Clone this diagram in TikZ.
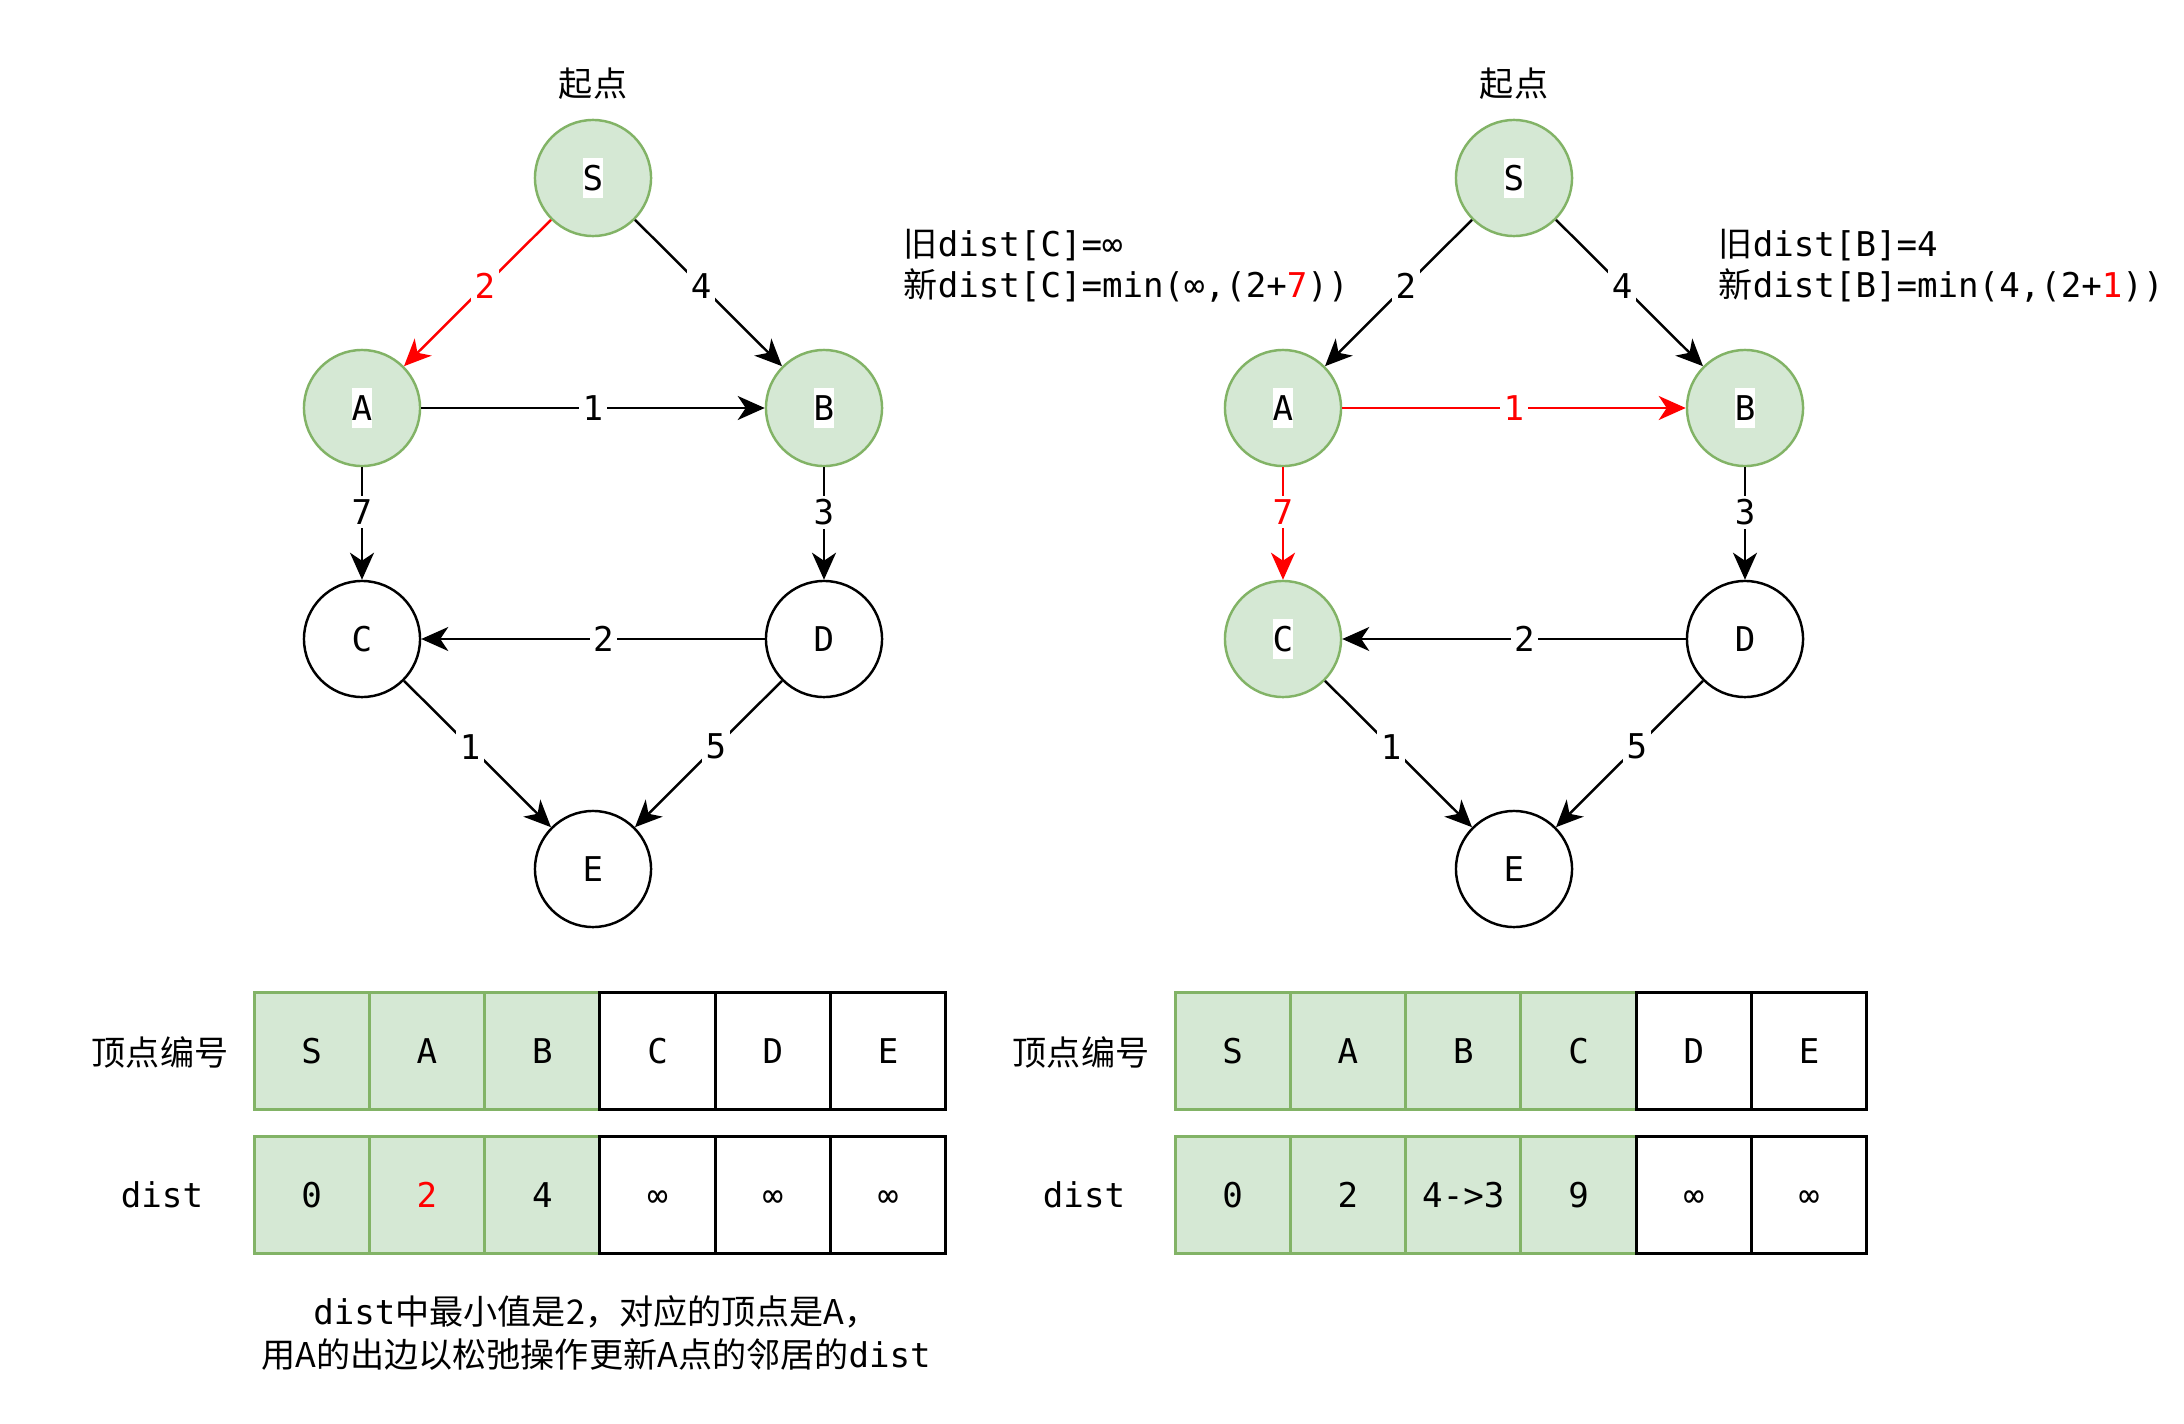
\documentclass[tikz,border=0pt]{standalone}
\usepackage{fontspec}
\setmainfont{DejaVu Sans Mono}
\newfontfamily\cjk{Noto Sans CJK SC}
\usetikzlibrary{arrows.meta}
\definecolor{gfill}{HTML}{D5E8D4}
\definecolor{gline}{HTML}{82B366}
\definecolor{myred}{HTML}{FF0000}
\newcommand\wbox[1]{{\setlength{\fboxsep}{0pt}\colorbox{white}{\rule[-0.22em]{0pt}{1.2em}#1}}}
\begin{document}
\begin{tikzpicture}[x=0.01cm,y=-0.01cm,
  every node/.style={font=\fontsize{9.7pt}{11.6pt}\selectfont},
  vtx/.style={circle,draw=black,fill=white,line width=0.7pt,minimum size=1.16cm,inner sep=0pt},
  gvtx/.style={vtx,draw=gline,fill=gfill},
  arr/.style={line width=0.7pt,-{Stealth[length=0.27cm,width=0.24cm,inset=0.08cm]}},
  rarr/.style={arr,draw=myred},
  elab/.style={fill=white,inner sep=1pt,pos=0.45},
  vlab/.style={fill=white,inner sep=1pt,pos=0.4},
  hlab/.style={fill=white,inner sep=1pt,pos=0.5},
  cell/.style={rectangle,draw=black,fill=white,line width=0.85pt,minimum width=1.153cm,minimum height=1.16cm,inner sep=0pt,text height=0.73em,text depth=0pt},
  gcell/.style={cell,draw=gline,fill=gfill},
]
\fill[white] (0,0) rectangle (2184,1424);
\useasboundingbox (0,0) rectangle (2184,1424);

% ---------- left graph ----------
\node (Lstart) at (593,84) {\cjk 起点};
\node[gvtx] (LS) at (593,178) {\wbox{S}};
\node[gvtx] (LA) at (362,408) {\wbox{A}};
\node[gvtx] (LB) at (824,408) {\wbox{B}};
\node[vtx] (LC) at (362,639) {\wbox{C}};
\node[vtx] (LD) at (824,639) {\wbox{D}};
\node[vtx] (LE) at (593,869) {\wbox{E}};

\draw[rarr] (LS) -- node[elab,text=myred] (lsa) {2} (LA);
\draw[arr] (LS) -- node[elab] (lsb) {4} (LB);
\draw[arr] (LA) -- node[hlab] (lab) {1} (LB);
\draw[arr] (LA) -- node[vlab] (lac) {7} (LC);
\draw[arr] (LB) -- node[vlab] (lbd) {3} (LD);
\draw[arr] (LD) -- node[hlab,pos=0.47] (ldc) {2} (LC);
\draw[arr] (LC) -- node[elab] (lce) {1} (LE);
\draw[arr] (LD) -- node[elab] (lde) {5} (LE);

% ---------- right graph ----------
\node (Rstart) at (1514,84) {\cjk 起点};
\node[gvtx] (RS) at (1514,178) {\wbox{S}};
\node[gvtx] (RA) at (1283,408) {\wbox{A}};
\node[gvtx] (RB) at (1745,408) {\wbox{B}};
\node[gvtx] (RC) at (1283,639) {\wbox{C}};
\node[vtx] (RD) at (1745,639) {\wbox{D}};
\node[vtx] (RE) at (1514,869) {\wbox{E}};

\draw[arr] (RS) -- node[elab] (rsa) {2} (RA);
\draw[arr] (RS) -- node[elab] (rsb) {4} (RB);
\draw[rarr] (RA) -- node[hlab,text=myred] (rab) {1} (RB);
\draw[rarr] (RA) -- node[vlab,text=myred] (rac) {7} (RC);
\draw[arr] (RB) -- node[vlab] (rbd) {3} (RD);
\draw[arr] (RD) -- node[hlab,pos=0.47] (rdc) {2} (RC);
\draw[arr] (RC) -- node[elab] (rce) {1} (RE);
\draw[arr] (RD) -- node[elab] (rde) {5} (RE);

% ---------- annotations ----------
\node[anchor=west,align=left,inner sep=0pt] (annL) at (903,266) {{\cjk 旧}dist[C]=∞\\{\cjk 新}dist[C]=min(∞,(2+\textcolor{myred}{7}))};
\node[anchor=west,align=left,inner sep=0pt] (annR) at (1718,266) {{\cjk 旧}dist[B]=4\\{\cjk 新}dist[B]=min(4,(2+\textcolor{myred}{1}))};

% ---------- left table ----------
\node (Lh1) at (160,1052) {\cjk 顶点编号};
\node (Lh2) at (162,1195) {dist};
\node[gcell] (Lv1) at (311.7,1051) {S};
\node[gcell] (Lv2) at (427.0,1051) {A};
\node[gcell] (Lv3) at (542.3,1051) {B};
\node[gcell] (Ld1) at (311.7,1195) {0};
\node[gcell] (Ld2) at (427.0,1195) {\textcolor{myred}{2}};
\node[gcell] (Ld3) at (542.3,1195) {4};
\node[cell] (Lv4) at (657.6,1051) {C};
\node[cell] (Lv5) at (772.9,1051) {D};
\node[cell] (Lv6) at (888.2,1051) {E};
\node[cell] (Ld4) at (657.6,1195) {∞};
\node[cell] (Ld5) at (772.9,1195) {∞};
\node[cell] (Ld6) at (888.2,1195) {∞};

% ---------- right table ----------
\node (Rh1) at (1081,1052) {\cjk 顶点编号};
\node (Rh2) at (1084,1195) {dist};
\node[gcell] (Rv1) at (1232.7,1051) {S};
\node[gcell] (Rv2) at (1348.0,1051) {A};
\node[gcell] (Rv3) at (1463.3,1051) {B};
\node[gcell] (Rv4) at (1578.6,1051) {C};
\node[gcell] (Rd1) at (1232.7,1195) {0};
\node[gcell] (Rd2) at (1348.0,1195) {2};
\node[gcell] (Rd3) at (1463.3,1195) {4->3};
\node[gcell] (Rd4) at (1578.6,1195) {9};
\node[cell] (Rv5) at (1693.9,1051) {D};
\node[cell] (Rv6) at (1809.2,1051) {E};
\node[cell] (Rd5) at (1693.9,1195) {∞};
\node[cell] (Rd6) at (1809.2,1195) {∞};

% ---------- caption ----------
\node[align=center,font=\fontsize{9.7pt}{12pt}\selectfont] (cap) at (596,1333) {dist{\cjk 中最小值是2，对应的顶点是A，}\\{\cjk 用A的出边以松弛操作更新A点的邻居的}dist};
\end{tikzpicture}
\end{document}
